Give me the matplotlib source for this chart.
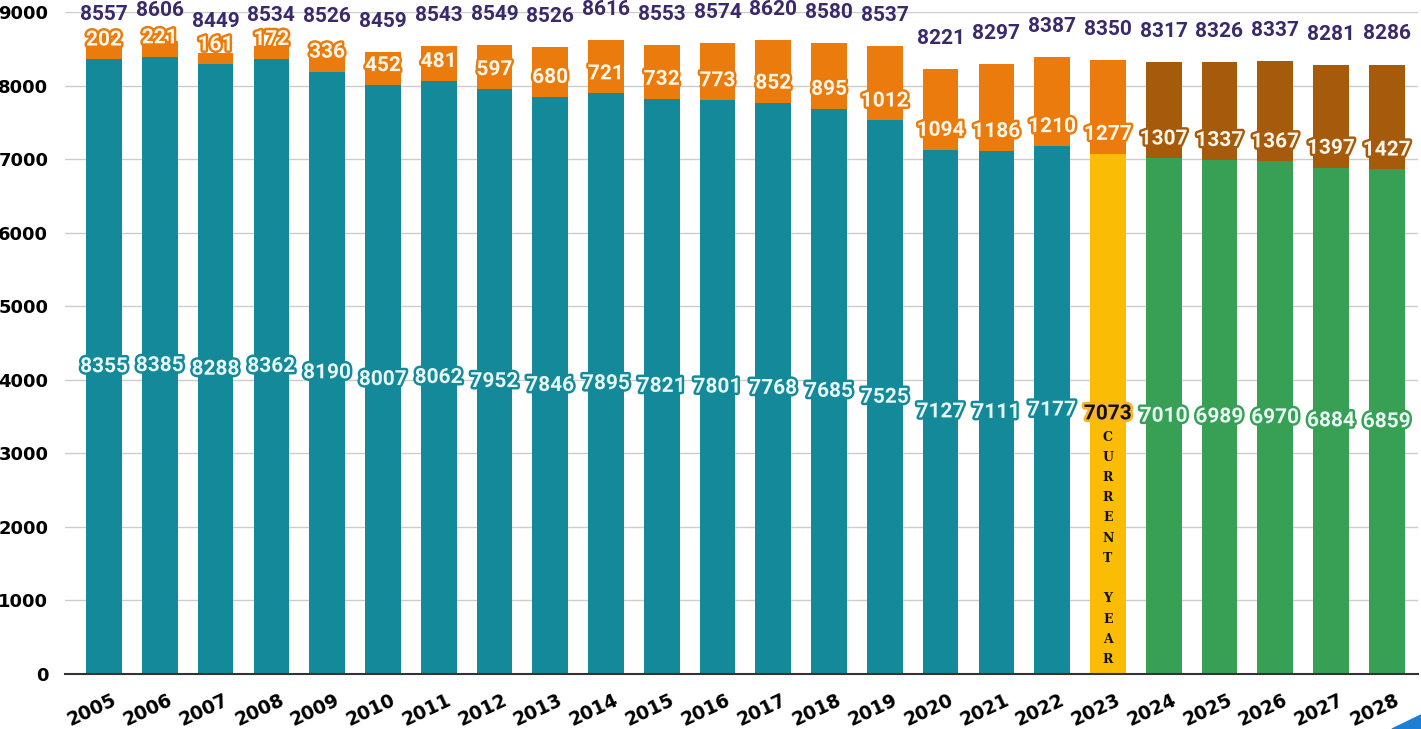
import matplotlib
matplotlib.use("Agg")
import matplotlib.pyplot as plt
import matplotlib.patheffects as pe
import matplotlib.transforms as mtransforms
from matplotlib.patches import Polygon

years = [str(y) for y in range(2005, 2029)]
base = [8355, 8385, 8288, 8362, 8190, 8007, 8062, 7952, 7846, 7895, 7821, 7801,
        7768, 7685, 7525, 7127, 7111, 7177, 7073, 7010, 6989, 6970, 6884, 6859]
extra = [202, 221, 161, 172, 336, 452, 481, 597, 680, 721, 732, 773,
         852, 895, 1012, 1094, 1186, 1210, 1277, 1307, 1337, 1367, 1397, 1427]
totals = [8557, 8606, 8449, 8534, 8526, 8459, 8543, 8549, 8526, 8616, 8553, 8574,
          8620, 8580, 8537, 8221, 8297, 8387, 8350, 8317, 8326, 8337, 8281, 8286]
current = "2023"

TEAL = "#13899a"
ORANGE = "#ea7b0c"
BROWN = "#a65a0b"
GREEN = "#37a055"
YELLOW = "#fbbc05"
PURPLE = "#3b2a6b"

cur = years.index(current)
base_col = [TEAL if i < cur else (YELLOW if i == cur else GREEN) for i in range(len(years))]
extra_col = [ORANGE if i <= cur else BROWN for i in range(len(years))]

fig = plt.figure(figsize=(14.21, 7.29), dpi=100)
ax = fig.add_axes([65 / 1421, 55 / 729, 1353 / 1421, 662 / 729])

x = list(range(len(years)))
w = 0.64
ax.bar(x, base, width=w, color=base_col, zorder=2)
ax.bar(x, extra, width=w, bottom=base, color=extra_col, zorder=2)

ax.set_xlim(-0.7, len(years) - 0.44)
ax.set_ylim(0, 9000)
ax.set_yticks(range(0, 9001, 1000))
ax.yaxis.grid(True, color="#cccccc", linewidth=1, zorder=0)
ax.set_axisbelow(True)
for s in ["top", "right", "left"]:
    ax.spines[s].set_visible(False)
ax.spines["bottom"].set_color("#333333")
ax.spines["bottom"].set_linewidth(1.5)
ax.tick_params(axis="both", length=0)
ax.tick_params(axis="y", pad=12)
ax.set_yticklabels([str(v) for v in range(0, 9001, 1000)],
                   fontsize=13, fontweight="bold", family="DejaVu Sans")

ax.set_xticks(x)
ax.set_xticklabels(years, rotation=25, fontsize=13.5, fontweight="bold",
                   family="DejaVu Sans", ha="center", va="top")
shift = mtransforms.ScaledTranslation(-12 / 100, -12 / 100, fig.dpi_scale_trans)
for lab in ax.get_xticklabels():
    lab.set_transform(lab.get_transform() + shift)

lab_font = dict(family="Roboto", fontweight="bold", fontsize=15)

for i in x:
    # base value, centered in the lower segment
    if i == cur:
        ax.text(i, base[i] / 2, str(base[i]), ha="center", va="center",
                color="#111111", zorder=4, **lab_font,
                path_effects=[pe.withStroke(linewidth=4, foreground="#f7b52a")])
    else:
        ax.text(i, base[i] / 2, str(base[i]), ha="center", va="center",
                color="#e8f6f4", zorder=4, **lab_font,
                path_effects=[pe.withStroke(linewidth=3.5, foreground=base_col[i])])
    # extra value, near the base of the upper segment
    ax.annotate(str(extra[i]), (i, base[i]), xytext=(0, 14), textcoords="offset points",
                ha="center", va="center", color="#fff6ea", zorder=4, **lab_font,
                path_effects=[pe.withStroke(linewidth=3.5, foreground=extra_col[i])])
    # total above the bar
    ax.annotate(str(totals[i]), (i, base[i] + extra[i]), xytext=(0, 22),
                textcoords="offset points", ha="center", va="center",
                color=PURPLE, zorder=4, annotation_clip=False, **lab_font)

# vertical "CURRENT YEAR" marker on the current bar
word = "CURRENT YEAR"
y0 = 3222
step = 275
for k, ch in enumerate(word):
    if ch == " ":
        continue
    ax.text(cur, y0 - k * step, ch, ha="center", va="center", fontsize=9,
            fontweight="bold", family="DejaVu Serif", color="#111111", zorder=4)

# small blue corner mark
fig.patches.append(Polygon([(1.0, 0.0), (1392 / 1421, 0.0), (1.0, 14 / 729)],
                           closed=True, transform=fig.transFigure,
                           color="#1a7fd6", zorder=5))

fig.savefig("out.png", dpi=100)
